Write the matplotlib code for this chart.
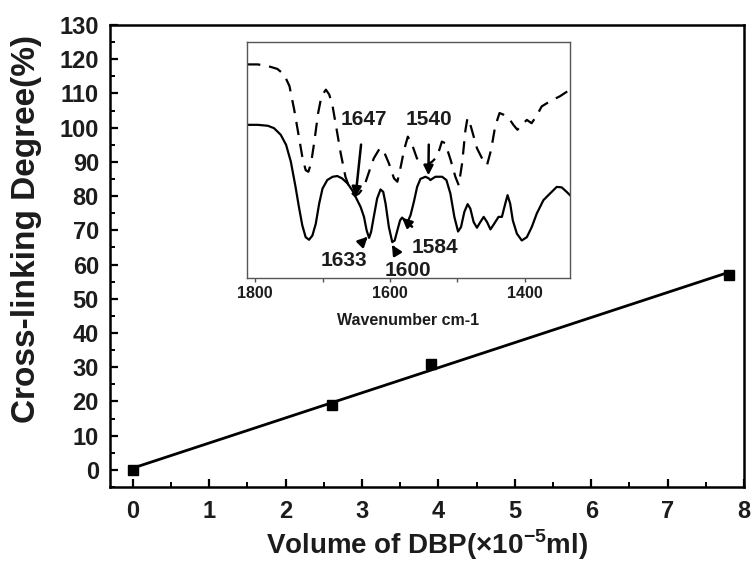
import numpy as np
import matplotlib
matplotlib.use("Agg")
import matplotlib.pyplot as plt
from matplotlib.ticker import MultipleLocator

# ---------------- data ----------------
dbp_volume = [0.0, 2.6, 3.9, 7.8]          # x 10^-5 ml
crosslink_degree = [0.0, 19.0, 31.0, 57.0]  # %

x_ticks = [0, 1, 2, 3, 4, 5, 6, 7, 8]
y_ticks = [0, 10, 20, 30, 40, 50, 60, 70, 80, 90, 100, 110, 120, 130]

# inset FTIR spectra (wavenumber cm-1, transmittance a.u.)
solid_wn = [1812, 1796, 1781, 1772, 1762, 1754, 1747, 1740, 1735, 1730, 1725,
            1720, 1715, 1710, 1705, 1700, 1693, 1685, 1678, 1671, 1663, 1656,
            1651, 1643.5, 1638.5, 1634.6, 1631, 1628, 1624, 1619, 1614, 1610,
            1606.5, 1601.6, 1596.6, 1593, 1589, 1585, 1582, 1578, 1574.5,
            1569.5, 1564.6, 1559.7, 1554.8, 1547.4, 1542.4, 1540, 1536.5,
            1532.5, 1522.7, 1516.3, 1510.4, 1504.5, 1499, 1494.6, 1489.7,
            1484.8, 1480.8, 1475.9, 1471, 1466, 1461, 1456, 1451, 1445.4,
            1439, 1434, 1429, 1425.6, 1421.7, 1417.8, 1411.8, 1404.5, 1397,
            1389.7, 1382.3, 1372.4, 1362.6, 1352.7, 1345.3, 1338, 1333]
solid_t = [64.9, 64.9, 64.5, 63.5, 60.7, 56.4, 49.3, 38.6, 30.1, 22.3, 17.3,
           16.2, 18.0, 23.0, 31.5, 37.9, 41.5, 42.9, 43.2, 42.2, 40.1, 37.2,
           34.4, 30.1, 25.9, 20.2, 17.0, 19.5, 25.9, 33.7, 37.5, 36.5,
           31.5, 21.6, 15.2, 15.9, 20.2, 24.4, 25.6, 24.4, 23.3,
           26.6, 32.2, 38.6, 42.0, 42.9, 42.2, 41.5, 42.2,
           42.9, 42.9, 41.5, 35.8, 25.9, 19.7, 21.6, 28.0,
           31.3, 29.4, 23.7, 21.3, 23.7, 25.9, 23.7, 20.6, 23.0,
           25.9, 25.9, 31.5, 35.1, 31.5, 24.4, 18.8, 15.9, 17.3,
           21.6, 27.3, 33.0, 35.8, 38.6, 38.4, 36.5, 35.1]

dashed_wn = [1812, 1796, 1781, 1767, 1757, 1749, 1742, 1736, 1730, 1725, 1721,
             1717, 1712.5, 1706.5, 1701.6, 1695, 1690, 1685, 1679, 1673, 1666,
             1658, 1652, 1646, 1638.5, 1631, 1624, 1615, 1609, 1601.6, 1594,
             1589, 1584, 1579, 1573.5, 1567, 1560, 1552, 1545, 1537.5, 1530,
             1523, 1518, 1510, 1503, 1498, 1493, 1488, 1485, 1480, 1471, 1461,
             1456, 1450, 1444, 1437.5, 1431.6, 1424, 1417, 1411, 1404.5, 1397,
             1390, 1383, 1375, 1362.6, 1348, 1333]
dashed_t = [90.5, 90.5, 89.8, 88.6, 86.2, 81.3, 71.3, 61.4, 51.4, 45.7, 45.0,
            48.6, 57.1, 69.9, 77.0, 79.8, 77.7, 72.7, 62.8, 52.8, 42.9,
            36.5, 34.8, 35.8, 38.6, 45.0, 50.7, 55.0, 53.6, 48.6, 42.2,
            40.8, 47.2, 54.3, 59.9, 56.4, 50.7, 47.9, 47.9, 49.3, 51.4,
            57.8, 57.1, 50.0, 42.9, 39.3, 48.6, 62.8, 67.8, 64.2, 55.0, 49.3,
            47.9, 54.3, 64.2, 69.9, 69.2, 67.8, 64.9, 62.8, 64.9, 67.0,
            65.6, 68.5, 72.7, 74.9, 77.0, 79.8]

inset_ticks = [1800, 1600, 1400]

# peak annotations: label, arrow tip (wn, t), text position (wn, t)
peak_labels = ["1647", "1540", "1633", "1600", "1584"]
peak_tips = [(1651, 34.5), (1543, 43.5), (1633, 17.5), (1597, 14.0), (1582, 25.5)]
peak_text = [(1639, 67.0), (1542, 67.0), (1668, 7.5), (1574, 3.0), (1533, 13.0)]

# ---------------- figure ----------------
plt.rcParams['font.family'] = ['Liberation Sans', 'DejaVu Sans']
TXT = '#1c1c1c'

fig = plt.figure(figsize=(7.51, 5.64), dpi=100)
ax = fig.add_axes([110/751, 1-487/564, (744-110)/751, (487-25)/564])

slope, intercept = np.polyfit(dbp_volume, crosslink_degree, 1)
xf = np.array([dbp_volume[0], dbp_volume[-1]])
ax.plot(xf, slope*xf + intercept, color='k', lw=2.0, zorder=2)
ax.plot(dbp_volume, crosslink_degree, ls='none', marker='s', ms=6.5,
        color='k', zorder=3)

ax.set_xlim(-0.3, 8.0)
ax.set_ylim(-5, 130)
ax.set_xticks(x_ticks)
ax.set_yticks(y_ticks)
ax.xaxis.set_minor_locator(MultipleLocator(0.5))
ax.yaxis.set_minor_locator(MultipleLocator(5))
ax.tick_params(which='both', direction='in', top=False, right=False,
               colors='k', labelcolor=TXT)
ax.tick_params(which='major', length=6, width=1.6, labelsize=17)
ax.tick_params(which='minor', length=3.5, width=1.4)
ax.tick_params(axis='y', which='major', pad=8)
ax.tick_params(axis='x', which='major', pad=9)
for lab in ax.get_xticklabels() + ax.get_yticklabels():
    lab.set_fontweight('bold')
for s in ax.spines.values():
    s.set_linewidth(1.8)

ax.set_xlabel(r'Volume of DBP($\mathregular{\times}$10$^{\mathregular{-5}}$ml)',
              fontsize=20, fontweight='bold', color=TXT)
ax.xaxis.set_label_coords(0.5, -0.124)
ax.xaxis.label.set_va('center')
ax.set_ylabel('Cross-linking Degree(%)', fontsize=24, fontweight='bold', color=TXT)
ax.yaxis.set_label_coords(-0.131, 0.558)
ax.yaxis.label.set_va('center')

# ---------------- inset ----------------
ins = fig.add_axes([247/751, 1-278/564, (570-247)/751, (278-42)/564])
ins.plot(dashed_wn, dashed_t, color='k', lw=1.6, dashes=(6, 4),
         solid_joinstyle='round', dash_joinstyle='round')
ins.plot(solid_wn, solid_t, color='k', lw=1.6, solid_joinstyle='round')
ins.set_xlim(1812, 1333)
ins.set_ylim(0, 100)
ins.set_yticks([])
ins.set_xticks(inset_ticks)
ins.xaxis.set_minor_locator(MultipleLocator(100))
ins.tick_params(axis='x', which='both', direction='out', length=3, width=1,
                labelsize=11.5, pad=3, colors='#555555', labelcolor=TXT)
for lab in ins.get_xticklabels():
    lab.set_fontweight('bold')
for s in ins.spines.values():
    s.set_linewidth(1.0)
    s.set_color('#555555')
ins.set_xlabel('Wavenumber cm-1', fontsize=11.5, fontweight='bold', color=TXT)
ins.xaxis.set_label_coords(0.5, -0.182)
ins.xaxis.label.set_va('center')

for lab, tip, txt in zip(peak_labels, peak_tips, peak_text):
    ins.annotate(lab, xy=tip, xytext=txt, ha='center', va='center',
                 fontsize=15, fontweight='bold', color=TXT,
                 annotation_clip=False,
                 arrowprops=dict(arrowstyle='-|>', color='k', lw=1.8,
                                 mutation_scale=14, shrinkA=9, shrinkB=0))

fig.savefig('out.png', dpi=100)
